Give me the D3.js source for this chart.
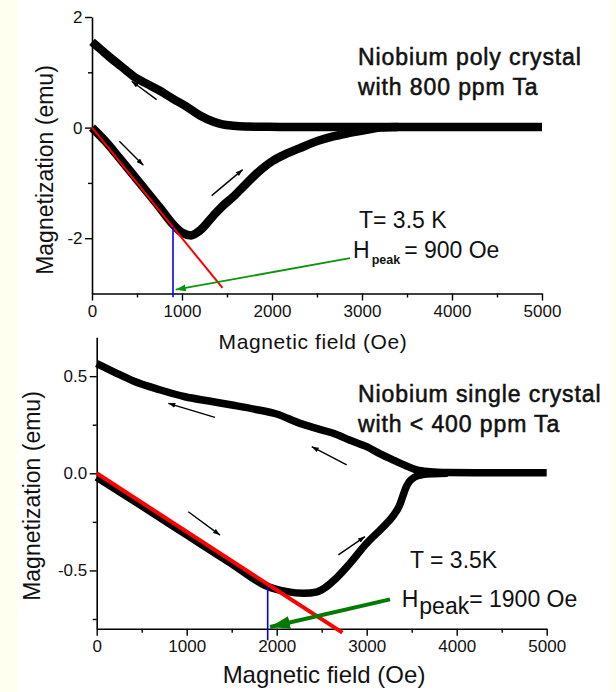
<!DOCTYPE html>
<html><head><meta charset="utf-8">
<script src="https://cdn.jsdelivr.net/npm/d3@7"></script>
<style>
html,body{margin:0;padding:0;background:#fffff0;}
svg{display:block;font-family:"Liberation Sans",Arial,Helvetica,sans-serif;}
</style></head><body>
<svg id="c" width="616" height="692"></svg>
<script>
// ---------- data ----------
const xTicks = [0, 1000, 2000, 3000, 4000, 5000];
const xMinor = [500, 1500, 2500, 3500, 4500];

// Top panel: Niobium poly crystal
const polyYTicks = [-2, 0, 2];
const polyYMinor = [-1, 1];
const polyUpperH = [0, 100, 200, 330, 459, 600, 750, 901, 1050, 1200, 1344, 1450, 1567, 1700, 1900, 2200, 2600, 3000, 3500, 4000, 4500, 5000];
const polyUpperM = [1.55, 1.41, 1.27, 1.10, 0.93, 0.80, 0.67, 0.52, 0.38, 0.22, 0.11, 0.06, 0.035, 0.02, 0.015, 0.01, 0.01, 0.01, 0.01, 0.01, 0.01, 0.01];
const polyLowerH = [0, 150, 300, 450, 600, 750, 900, 1000, 1100, 1200, 1345, 1450, 1570, 1680, 1790, 1900, 2010, 2150, 2310, 2530, 2680, 2850, 3050, 3200, 3400];
const polyLowerM = [0, -0.25, -0.54, -0.84, -1.14, -1.44, -1.75, -1.9, -1.95, -1.86, -1.6, -1.42, -1.25, -1.07, -0.89, -0.73, -0.6, -0.48, -0.37, -0.23, -0.16, -0.1, -0.04, 0.0, 0.01];
const polyFitH = [0, 1450];
const polyFitM = [0, -2.9];
const polyPeakH = 900;
const polyPeakM = [-3.07, -1.8];
const polyPointerH = [2867, 930];
const polyPointerM = [-2.36, -2.93];
const polyArrows = [[718, 0.507, 441, 0.838], [304, -0.247, 570, -0.68], [1330, -1.23, 1674, -0.76]];

// Bottom panel: Niobium single crystal
const singleYTicks = [-0.5, 0.0, 0.5];
const singleYMinor = [-0.75, -0.25, 0.25];
const singleUpperH = [0, 200, 408, 700, 981, 1250, 1519, 1750, 1999, 2259, 2450, 2629, 2815, 3000, 3150, 3296, 3430, 3556, 3700, 3900, 4200, 4600, 5000];
const singleUpperM = [0.565, 0.52, 0.475, 0.43, 0.394, 0.372, 0.35, 0.33, 0.305, 0.257, 0.23, 0.206, 0.17, 0.137, 0.10, 0.068, 0.04, 0.017, 0.008, 0.004, 0.003, 0.003, 0.003];
const singleLowerH = [0, 500, 1000, 1500, 1900, 2100, 2300, 2450, 2550, 2650, 2815, 3000, 3185, 3300, 3360, 3400, 3430, 3470, 3530, 3620, 3750, 3900];
const singleLowerM = [-0.02, -0.168, -0.317, -0.466, -0.583, -0.608, -0.618, -0.61, -0.585, -0.545, -0.463, -0.36, -0.275, -0.215, -0.17, -0.12, -0.08, -0.045, -0.02, -0.007, -0.002, 0.0];
const singleFitH = [0, 2730];
const singleFitM = [0, -0.82];
const singlePeakH = 1900;
const singlePeakM = [-0.86, -0.585];
const singlePointerH = [3259, 1926];
const singlePointerM = [-0.649, -0.791];
const singleArrows = [[1314, 0.288, 796, 0.36], [1018, -0.198, 1370, -0.318], [2778, 0.043, 2389, 0.137], [2685, -0.42, 2981, -0.326]];

// ---------- drawing ----------
const svg = d3.select("#c");
svg.append("rect").attr("x", 17).attr("y", 0).attr("width", 594).attr("height", 692).attr("fill", "#ffffff");

const defs = svg.append("defs");
function marker(id, color, len, wid) {
  defs.append("marker").attr("id", id)
    .attr("markerUnits", "userSpaceOnUse")
    .attr("viewBox", `0 ${-wid / 2} ${len} ${wid}`)
    .attr("refX", len).attr("refY", 0)
    .attr("markerWidth", len).attr("markerHeight", wid)
    .attr("orient", "auto")
    .append("path").attr("d", `M0,${-wid / 2}L${len},0L0,${wid / 2}Z`).attr("fill", color);
}
marker("ab", "#000", 7, 5);
marker("ag1", "#0a960a", 10, 7);
marker("ag2", "#007a00", 20, 13);

const pair = (H, M) => H.map((h, i) => [h, M[i]]);

function panel(o) {
  const x = d3.scaleLinear().domain([0, 5000]).range(o.xr);
  const y = d3.scaleLinear().domain(o.yd).range(o.yr);
  const g = svg.append("g");

  // axes
  g.append("g").attr("transform", `translate(0,${o.yr[0]})`)
    .call(d3.axisBottom(x).tickValues(xTicks).tickSize(7).tickSizeOuter(0).tickPadding(4.5).tickFormat(d => String(d)));
  g.append("g").attr("transform", `translate(0,${o.yr[0]})`)
    .call(d3.axisBottom(x).tickValues(xMinor).tickSize(4).tickSizeOuter(0).tickFormat(""))
    .select(".domain").remove();
  g.append("g").attr("transform", `translate(${o.xr[0]},0)`)
    .call(d3.axisLeft(y).tickValues(o.yt).tickSize(7).tickSizeOuter(0).tickPadding(2.5).tickFormat(o.fmt));
  g.append("g").attr("transform", `translate(${o.xr[0]},0)`)
    .call(d3.axisLeft(y).tickValues(o.ym).tickSize(4).tickSizeOuter(0).tickFormat(""))
    .select(".domain").remove();
  g.selectAll(".domain").attr("stroke", "#000").attr("stroke-width", 1.6);
  g.selectAll(".tick line").attr("stroke", "#000").attr("stroke-width", 1.4);
  g.selectAll(".tick text").attr("font-size", 17).attr("fill", "#111")
    .attr("font-family", '"Liberation Sans",Arial,sans-serif');

  // titles
  g.append("text").attr("x", o.xtx).attr("y", o.xty).attr("text-anchor", "middle")
    .attr("font-size", o.xts).attr("letter-spacing", o.xtls).attr("fill", "#111").text("Magnetic field (Oe)");
  g.append("text").attr("transform", `translate(${o.ytx},${o.yty}) rotate(-90)`).attr("text-anchor", "middle")
    .attr("font-size", 23).attr("fill", "#111").text("Magnetization (emu)");

  const line = d3.line().x(d => x(d[0])).y(d => y(d[1])).curve(d3.curveMonotoneX);
  const straight = d3.line().x(d => x(d[0])).y(d => y(d[1]));

  // data curves
  [o.upper, o.lower].forEach(c => {
    g.append("path").attr("d", line(c)).attr("fill", "none").attr("stroke", "#000")
      .attr("stroke-width", o.bw).attr("stroke-linejoin", "round").attr("stroke-linecap", "butt");
  });
  // fit line
  g.append("path").attr("d", straight(o.fit)).attr("fill", "none").attr("stroke", "#ff0000").attr("stroke-width", o.rw);
  // peak marker
  g.append("path").attr("d", straight([[o.peakH, o.peakM[0]], [o.peakH, o.peakM[1]]]))
    .attr("fill", "none").attr("stroke", "#0000ff").attr("stroke-width", 1.6);
  // pointer
  g.append("path").attr("d", straight(o.pointer)).attr("fill", "none").attr("stroke", o.gc)
    .attr("stroke-width", o.gw).attr("marker-end", `url(#${o.gm})`);
  // small arrows
  o.arrows.forEach(a => {
    g.append("line").attr("x1", x(a[0])).attr("y1", y(a[1])).attr("x2", x(a[2])).attr("y2", y(a[3]))
      .attr("stroke", "#000").attr("stroke-width", 1.4).attr("marker-end", "url(#ab)");
  });
  return g;
}

panel({
  xr: [92, 542], yd: [-3, 2], yr: [293.5, 17], yt: polyYTicks, ym: polyYMinor, fmt: d => String(d),
  xtx: 313, xty: 349.3, xts: 21, xtls: 0.6, ytx: 53.3, yty: 170,
  upper: pair(polyUpperH, polyUpperM), lower: pair(polyLowerH, polyLowerM),
  fit: pair(polyFitH, polyFitM), peakH: polyPeakH, peakM: polyPeakM,
  pointer: pair(polyPointerH, polyPointerM), gc: "#0a960a", gw: 1.8, gm: "ag1",
  arrows: polyArrows, bw: 8.5, rw: 2
});
panel({
  xr: [96.7, 546.7], yd: [-0.8, 0.7], yr: [628.7, 337.3], yt: singleYTicks, ym: singleYMinor, fmt: d => d.toFixed(1),
  xtx: 324, xty: 683.3, xts: 24, xtls: 0, ytx: 40, yty: 496,
  upper: pair(singleUpperH, singleUpperM), lower: pair(singleLowerH, singleLowerM),
  fit: pair(singleFitH, singleFitM), peakH: singlePeakH, peakM: singlePeakM,
  pointer: pair(singlePointerH, singlePointerM), gc: "#007a00", gw: 4, gm: "ag2",
  arrows: singleArrows, bw: 7.5, rw: 4
});

// annotations
function txt(x, y, s, size, heavy) {
  const t = svg.append("text").attr("x", x).attr("y", y).attr("font-size", size)
    .attr("fill", "#111").text(s);
  if (heavy) t.attr("stroke", "#111").attr("stroke-width", 0.55).attr("letter-spacing", 0.9);
  return t;
}
txt(358, 65, "Niobium poly crystal", 23, true);
txt(358, 95, "with 800 ppm Ta", 23, true);
txt(359, 228.3, "T= 3.5 K", 23);
const h1 = svg.append("text").attr("x", 353).attr("y", 258.3).attr("font-size", 23).attr("fill", "#111");
h1.append("tspan").text("H");
h1.append("tspan").attr("dy", 6).attr("dx", 2).attr("font-size", 12.5).attr("font-weight", "bold").text("peak");
h1.append("tspan").attr("dy", -6).attr("dx", 4).text("= 900 Oe");

txt(358, 401.5, "Niobium single crystal", 23, true);
txt(358, 431.7, "with < 400 ppm Ta", 23, true);
txt(410, 568.3, "T = 3.5K", 23);
const h2 = svg.append("text").attr("x", 401.7).attr("y", 606.7).attr("font-size", 23).attr("fill", "#111");
h2.append("tspan").text("H");
h2.append("tspan").attr("dy", 7).attr("dx", 1).text("peak");
h2.append("tspan").attr("dy", -7).text("= 1900 Oe");
</script>
</body></html>
